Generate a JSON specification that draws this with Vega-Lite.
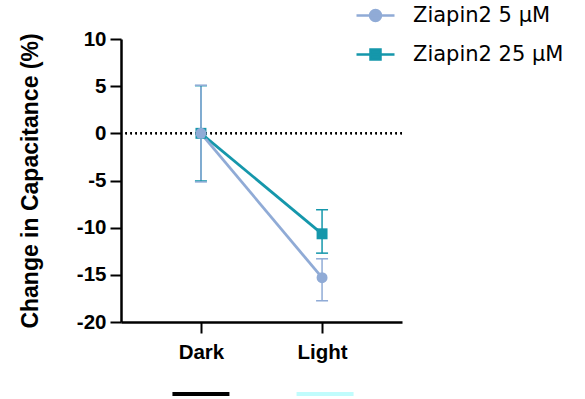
{
  "$schema": "https://vega.github.io/schema/vega-lite/v6.json",
  "autosize": "none",
  "width": 281,
  "height": 283,
  "padding": {"left": 121, "top": 39, "right": 183, "bottom": 77},
  "background": "white",
  "datasets": {
    "main": [
      {"series": "Ziapin2 25 µM", "cond": "Dark", "mean": 0, "lower": -5.05, "upper": 5.05},
      {"series": "Ziapin2 25 µM", "cond": "Light", "mean": -10.65, "lower": -12.7, "upper": -8.1},
      {"series": "Ziapin2 5 µM", "cond": "Dark", "mean": 0, "lower": -5.15, "upper": 5.1},
      {"series": "Ziapin2 5 µM", "cond": "Light", "mean": -15.3, "lower": -17.75, "upper": -13.3}
    ],
    "conds": [{"cond": "Dark"}, {"cond": "Light"}]
  },
  "data": {"name": "main"},
  "config": {
    "view": {"stroke": null},
    "axis": {"grid": false, "domainColor": "black", "tickColor": "black", "labelColor": "black", "titleColor": "black"}
  },
  "encoding": {
    "x": {
      "field": "cond", "type": "nominal",
      "sort": ["Dark", "Light"],
      "scale": {"type": "point", "domain": ["Dark", "Light"], "padding": 0.66},
      "axis": {
        "title": null, "labelAngle": 0, "labelFont": "Liberation Sans", "labelFontWeight": "bold",
        "labelFontSize": 20.5, "tickSize": 11, "tickWidth": 2, "domainWidth": 2.5, "labelPadding": 9
      }
    }
  },
  "layer": [
    {
      "mark": {"type": "rule", "color": "black", "strokeWidth": 2, "strokeDash": [1.5, 3.5]},
      "encoding": {"y": {"datum": 0, "type": "quantitative"}, "x": null}
    },
    {
      "mark": {"type": "rule", "strokeWidth": 1.5},
      "encoding": {
        "y": {
          "field": "lower", "type": "quantitative",
          "scale": {"domain": [-20, 10], "nice": false, "zero": false},
          "axis": {
            "title": "Change in Capacitance (%)", "values": [-20, -15, -10, -5, 0, 5, 10],
            "labelExpr": "toString(datum.value)",
            "labelFont": "Liberation Sans", "labelFontWeight": "bold", "labelFontSize": 20.5,
            "tickSize": 11, "tickWidth": 2, "domainWidth": 2.5, "labelPadding": 4,
            "titleFont": "Liberation Sans", "titleFontWeight": "bold", "titleFontSize": 23,
            "titleX": -84, "titleY": 141.5, "titleAngle": -90, "titleBaseline": "alphabetic", "titleAlign": "center"
          }
        },
        "y2": {"field": "upper"},
        "color": {
          "field": "series", "type": "nominal",
          "scale": {"domain": ["Ziapin2 5 µM", "Ziapin2 25 µM"], "range": ["#90ABD6", "#1597AB"]},
          "legend": {
            "title": null, "orient": "none", "legendX": 243, "legendY": -35,
            "padding": 0, "symbolSize": 400, "symbolStrokeWidth": 2.5, "symbolOpacity": 1,
            "labelFont": "DejaVu Sans", "labelFontSize": 21, "labelColor": "black",
            "labelOffset": 26, "rowPadding": 17, "labelLimit": 300,
            "encode": {
              "symbols": {
                "update": {
                  "shape": {"signal": "datum.value === 'Ziapin2 5 µM' ? 'M-1.9,0H1.9M0.55,0A0.55,0.55,0,1,1,-0.55,0A0.55,0.55,0,1,1,0.55,0Z' : 'M-1.9,0H1.9M-0.5,-0.5H0.5V0.5H-0.5Z'"},
                  "fill": {"signal": "scale('color', datum.value)"},
                  "stroke": {"signal": "scale('color', datum.value)"},
                  "strokeWidth": {"value": 2.5},
                  "opacity": {"value": 1}
                }
              }
            }
          }
        }
      }
    },
    {
      "mark": {"type": "tick", "orient": "horizontal", "size": 12, "thickness": 1.5, "opacity": 1},
      "encoding": {
        "y": {"field": "lower", "type": "quantitative"},
        "color": {"field": "series", "type": "nominal"}
      }
    },
    {
      "mark": {"type": "tick", "orient": "horizontal", "size": 12, "thickness": 1.5, "opacity": 1},
      "encoding": {
        "y": {"field": "upper", "type": "quantitative"},
        "color": {"field": "series", "type": "nominal"}
      }
    },
    {
      "mark": {"type": "line", "strokeWidth": 2.8},
      "encoding": {
        "y": {"field": "mean", "type": "quantitative"},
        "detail": {"field": "series"},
        "color": {"field": "series", "type": "nominal"}
      }
    },
    {
      "transform": [{"filter": "datum.series === 'Ziapin2 25 µM'"}],
      "mark": {"type": "point", "shape": "square", "filled": true, "opacity": 1, "size": 120, "color": "#1597AB"},
      "encoding": {"y": {"field": "mean", "type": "quantitative"}}
    },
    {
      "transform": [{"filter": "datum.series === 'Ziapin2 5 µM'"}],
      "mark": {"type": "point", "shape": "circle", "filled": true, "opacity": 1, "size": 120, "color": "#90ABD6"},
      "encoding": {"y": {"field": "mean", "type": "quantitative"}}
    },
    {
      "data": {"name": "conds"},
      "transform": [{"filter": "datum.cond === 'Dark'"}],
      "mark": {"type": "tick", "orient": "horizontal", "size": 57, "thickness": 4, "color": "black", "opacity": 1, "yOffset": 72},
      "encoding": {"y": {"datum": -20, "type": "quantitative"}}
    },
    {
      "data": {"name": "conds"},
      "transform": [{"filter": "datum.cond === 'Light'"}],
      "mark": {"type": "tick", "orient": "horizontal", "size": 57, "thickness": 4, "color": "#C0FCFC", "opacity": 1, "yOffset": 72, "xOffset": 3},
      "encoding": {"y": {"datum": -20, "type": "quantitative"}}
    }
  ]
}
